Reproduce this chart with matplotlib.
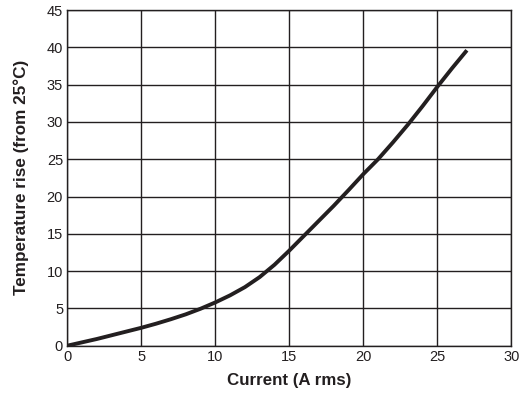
import numpy as np
import matplotlib
matplotlib.use('Agg')
from matplotlib import pyplot as plt

# curve
current = [0, 1, 2, 3, 4, 5, 6, 7, 8, 9, 10, 11, 12, 13, 14, 15, 16, 17,
           18, 19, 20, 21, 22, 23, 24, 25, 26, 27]
temp_rise = [0, 0.45, 0.9, 1.4, 1.9, 2.4, 2.95, 3.55, 4.2, 4.95, 5.8, 6.75,
             7.85, 9.2, 10.85, 12.75, 14.75, 16.75, 18.75, 20.85, 23.0, 25.0,
             27.25, 29.6, 32.1, 34.7, 37.2, 39.6]
x_ticks = [0, 5, 10, 15, 20, 25, 30]
y_ticks = [0, 5, 10, 15, 20, 25, 30, 35, 40, 45]

plt.rcParams['font.family'] = ['Liberation Sans', 'DejaVu Sans']

fig = plt.figure(figsize=(5.31, 3.94), dpi=100)
ax = fig.add_axes([0.1267, 0.1226, 0.8362, 0.852])
ax.plot(current, temp_rise, color='#231f20', lw=2.8, solid_capstyle='butt',
        solid_joinstyle='round')
ax.set_xlim(0, 30)
ax.set_ylim(0, 45)
ax.set_xticks(x_ticks)
ax.set_yticks(y_ticks)
ax.grid(color='#231f20', lw=1.0)
ax.set_axisbelow(True)
for s in ax.spines.values():
    s.set_color('#231f20')
    s.set_linewidth(1.0)
ax.tick_params(length=0, labelsize=10.5, colors='#231f20', pad=3)
ax.set_xlabel('Current (A rms)', fontsize=12.2, fontweight='bold', color='#231f20')
ax.set_ylabel('Temperature rise (from 25\u00b0C)', fontsize=12.3,
              fontweight='bold', color='#231f20')
ax.xaxis.set_label_coords(0.5, -0.08)
ax.yaxis.set_label_coords(-0.087, 0.5)
fig.savefig('out.png', dpi=100)
plt.close(fig)
